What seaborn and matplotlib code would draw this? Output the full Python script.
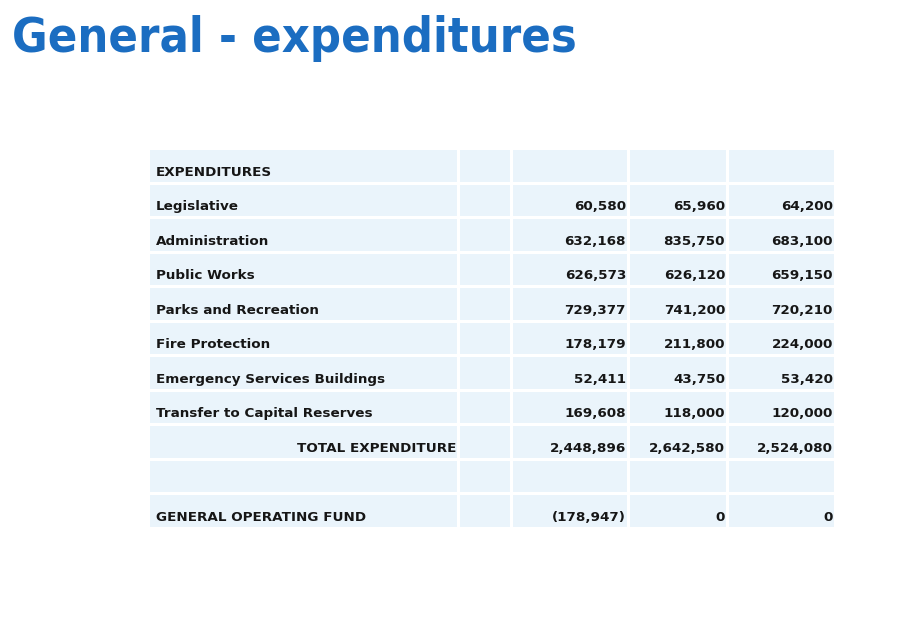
import numpy as np
import matplotlib
matplotlib.use("Agg")
import matplotlib.pyplot as plt
from matplotlib.colors import ListedColormap
import seaborn as sns

TITLE = "General - expenditures"

ROW_LABELS = [
    "EXPENDITURES",
    "Legislative",
    "Administration",
    "Public Works",
    "Parks and Recreation",
    "Fire Protection",
    "Emergency Services Buildings",
    "Transfer to Capital Reserves",
    "TOTAL EXPENDITURE",
    "",
    "GENERAL OPERATING FUND",
]
# three budget columns (no headers shown on the slide)
COL_A = [None, 60580, 632168, 626573, 729377, 178179, 52411, 169608, 2448896, None, -178947]
COL_B = [None, 65960, 835750, 626120, 741200, 211800, 43750, 118000, 2642580, None, 0]
COL_C = [None, 64200, 683100, 659150, 720210, 224000, 53420, 120000, 2524080, None, 0]
RIGHT_ALIGNED_LABELS = ["TOTAL EXPENDITURE"]

CELL = "#EAF4FB"
TITLE_BLUE = "#1B6DC1"
TEXT = "#161616"

W, H = 900, 629
# table frame in pixels
LEFT, RIGHT, TOP, BOTTOM = 148, 835, 148, 528
COL_WIDTHS = [310, 53, 117, 99, 108]


def fmt(v):
    if v is None:
        return ""
    if v < 0:
        return f"({-v:,})"
    return f"{v:,}"


sns.set_theme(style="white")
plt.rcParams["font.family"] = ["DejaVu Sans"]

fig = plt.figure(figsize=(W / 100, H / 100), dpi=100)
gs = fig.add_gridspec(
    1, len(COL_WIDTHS), width_ratios=COL_WIDTHS, wspace=0,
    left=LEFT / W, right=RIGHT / W, top=1 - TOP / H, bottom=1 - BOTTOM / H,
)

columns = [
    (list(ROW_LABELS), "label"),
    ([""] * len(ROW_LABELS), "blank"),
    ([fmt(v) for v in COL_A], "num"),
    ([fmt(v) for v in COL_B], "num"),
    ([fmt(v) for v in COL_C], "num"),
]

n = len(ROW_LABELS)
cmap = ListedColormap([CELL])

for k, (texts, kind) in enumerate(columns):
    ax = fig.add_subplot(gs[0, k])
    labels = np.array(texts, dtype=object).reshape(n, 1)
    sns.heatmap(
        np.zeros((n, 1)), ax=ax, cmap=cmap, vmin=0, vmax=1, cbar=False,
        annot=labels, fmt="", linewidths=0.8, linecolor="white",
        xticklabels=False, yticklabels=False,
        annot_kws=dict(color=TEXT, fontsize=9.7, fontweight="bold"),
    )
    w = COL_WIDTHS[k]
    for t in ax.texts:
        x, y = t.get_position()
        s = t.get_text()
        t.set_va("baseline")
        # baseline sits a bit below the middle of each row
        if kind == "label" and s not in RIGHT_ALIGNED_LABELS:
            t.set_ha("left")
            t.set_position((8 / w, y + 0.3))
        else:
            t.set_ha("right")
            t.set_position((1 - 2 / w, y + 0.3))
    ax.set_xlabel("")
    ax.set_ylabel("")

fig.text(12 / W, 1 - 52 / H, TITLE, color=TITLE_BLUE, fontsize=34.9,
         fontweight="bold", fontstretch="condensed", ha="left", va="baseline")

fig.savefig("out.png", dpi=100)
